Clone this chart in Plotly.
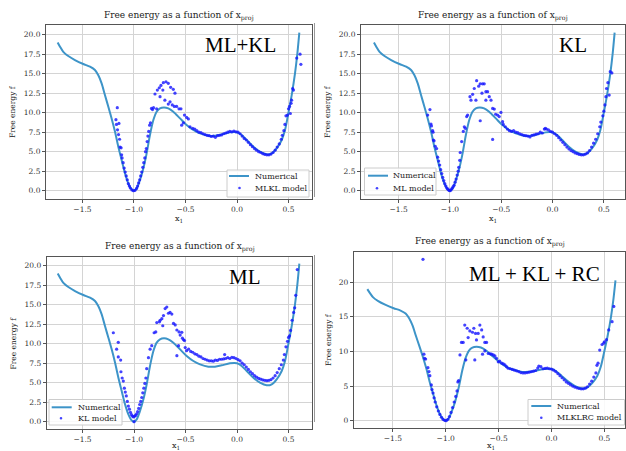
import plotly.graph_objects as go

W, H = 626, 451

# ---------------- data ----------------
num_x = [-1.741, -1.718, -1.686, -1.638, -1.573, -1.492, -1.427, -1.379, -1.346, -1.314,
         -1.282, -1.249, -1.217, -1.184, -1.152, -1.12, -1.087, -1.055, -1.023, -1.0,
         -0.974, -0.942, -0.909, -0.877, -0.845, -0.812, -0.78, -0.748, -0.709, -0.667,
         -0.618, -0.553, -0.489, -0.424, -0.359, -0.278, -0.214, -0.149, -0.068, 0.0,
         0.045, 0.094, 0.159, 0.223, 0.288, 0.337, 0.385, 0.434, 0.466, 0.498,
         0.531, 0.563, 0.586, 0.605]
num_y = [19.0, 18.46, 17.8, 17.26, 16.75, 16.24, 15.9, 15.47, 14.8, 13.76,
         12.26, 10.77, 9.27, 7.56, 5.64, 3.93, 2.22, 0.94, 0.17, 0.0,
         0.3, 1.37, 2.86, 4.79, 7.14, 9.06, 10.13, 10.56, 10.68, 10.56,
         10.13, 9.27, 8.42, 7.78, 7.35, 7.05, 7.05, 7.22, 7.48, 7.48,
         7.14, 6.5, 5.64, 5.0, 4.66, 4.79, 5.43, 6.5, 7.78, 9.91,
         12.26, 15.04, 17.6, 20.26]

# panel 1 : ML+KL  (MLKL model)
mlkl_x = [-1.175, -1.162, -1.17, -1.146, -1.16, -1.15, -1.14, -1.135, -1.125, -1.12, -1.115, -1.105,
          -1.095, -1.085, -1.075, -1.065, -1.055, -1.045, -1.035, -1.02, -1.005, -0.99, -0.975,
          -0.965, -0.955, -0.945, -0.935, -0.925, -0.915, -0.905, -0.895, -0.888, -0.88, -0.872,
          -0.865, -0.857, -0.848, -0.84, -0.83, -0.82, -0.81, -0.796, -0.78, -0.773, -0.754,
          -0.747, -0.738, -0.72, -0.715, -0.7, -0.689, -0.667, -0.667, -0.65, -0.644, -0.628,
          -0.618, -0.608, -0.602, -0.586, -0.563, -0.544, -0.537, -0.52, -0.51, -0.489, -0.472,
          -0.456, -0.43, -0.41, -0.39, -0.37, -0.35, -0.33, -0.31, -0.29, -0.27, -0.25, -0.23,
          -0.21, -0.19, -0.17, -0.15, -0.13, -0.11, -0.09, -0.07, -0.05, -0.03, -0.01, 0.01,
          0.03, 0.05, 0.07, 0.09, 0.11, 0.13, 0.15, 0.17, 0.19, 0.21, 0.23, 0.25, 0.27, 0.29,
          0.31, 0.33, 0.35, 0.37, 0.39, 0.41, 0.43, 0.44, 0.455, 0.465, 0.475, 0.49, 0.5, 0.51,
          0.518, 0.525, 0.53, 0.54, 0.548, 0.58, 0.612, 0.62]
mlkl_y = [9.1, 10.64, 8.5, 8.63, 7.8, 7.2, 6.6, 5.6, 5.5, 4.6, 4.2, 3.6,
          2.9, 2.4, 1.9, 1.4, 0.9, 0.6, 0.35, 0.1, 0.0, 0.05, 0.3,
          0.6, 1.0, 1.4, 1.9, 2.4, 3.0, 3.6, 4.2, 5.0, 5.4, 6.3,
          7.0, 7.6, 8.4, 8.7, 10.55, 10.4, 10.64, 12.4, 10.5, 12.9, 13.2,
          12.05, 13.5, 12.9, 13.85, 11.6, 13.97, 11.1, 13.76, 11.4, 13.25, 11.0,
          13.0, 10.8, 12.5, 10.8, 10.5, 10.5, 8.4, 8.7, 9.7, 9.4, 9.2,
          8.2, 8.0, 7.9, 7.7, 7.5, 7.45, 7.3, 7.2, 7.1, 7.05, 6.95, 7.0,
          6.85, 7.05, 7.1, 7.15, 7.3, 7.4, 7.5, 7.6, 7.55, 7.65, 7.55, 7.5,
          7.3, 7.0, 6.7, 6.5, 6.2, 5.9, 5.65, 5.4, 5.2, 5.0, 4.9, 4.75, 4.65, 4.6,
          4.6, 4.7, 4.9, 5.2, 5.6, 6.0, 6.6, 7.1, 7.7, 8.5, 9.6, 9.7, 10.5, 10.8,
          9.9, 11.2, 11.6, 13.1, 12.9, 17.0, 17.5, 16.2]

# panel 2 : KL  (ML model)
ml_x = [-1.217, -1.195, -1.185, -1.18, -1.169, -1.165, -1.162, -1.155, -1.143, -1.13, -1.12, -1.11,
        -1.1, -1.09, -1.08, -1.07, -1.06, -1.05, -1.04, -1.03, -1.02, -1.01, -1.0, -0.99, -0.98,
        -0.97, -0.96, -0.95, -0.94, -0.93, -0.92, -0.915, -0.905, -0.9, -0.886, -0.87, -0.86,
        -0.85, -0.837, -0.828, -0.805, -0.795, -0.779, -0.763, -0.747, -0.74, -0.72, -0.705,
        -0.705, -0.688, -0.682, -0.666, -0.65, -0.65, -0.633, -0.617, -0.6, -0.584, -0.584,
        -0.568, -0.555, -0.536, -0.52, -0.503, -0.487, -0.48, -0.46, -0.44, -0.42, -0.4, -0.38,
        -0.36, -0.34, -0.32, -0.3, -0.28, -0.26, -0.24, -0.22, -0.2, -0.18, -0.16, -0.14, -0.12,
        -0.1, -0.08, -0.07, -0.06, -0.04, -0.02, 0.0, 0.02, 0.04, 0.06, 0.08, 0.1, 0.12, 0.14,
        0.16, 0.18, 0.2, 0.22, 0.24, 0.26, 0.28, 0.3, 0.32, 0.34, 0.36, 0.38, 0.4, 0.42, 0.44,
        0.46, 0.47, 0.49, 0.5, 0.51, 0.52, 0.526, 0.539, 0.552, 0.562, 0.578]
ml_y = [9.7, 10.4, 8.55, 8.3, 7.7, 7.5, 6.5, 6.4, 5.7, 5.4, 4.3, 3.8,
        3.3, 2.7, 2.2, 1.7, 1.3, 0.9, 0.6, 0.35, 0.2, 0.05, 0.0, 0.1, 0.3,
        0.5, 0.7, 1.1, 1.5, 2.0, 2.5, 3.0, 3.9, 4.9, 6.3, 7.6, 8.2,
        8.0, 9.5, 9.7, 12.05, 11.6, 12.35, 13.1, 11.6, 14.1, 13.4, 13.7,
        8.97, 12.5, 13.7, 13.7, 12.7, 11.6, 12.7, 12.05, 11.6, 10.55, 6.58,
        10.47, 9.8, 9.7, 9.5, 10.04, 8.85, 8.5, 8.2, 7.9, 7.7, 7.6, 7.7,
        7.5, 7.45, 7.3, 7.2, 7.1, 7.05, 7.0, 6.9, 7.1, 7.15, 7.25, 7.3, 7.5,
        7.4, 7.9, 8.0, 7.9, 7.8, 7.6, 7.5, 7.3, 7.1, 6.8, 6.5, 6.2, 5.9, 5.6,
        5.35, 5.15, 5.0, 4.85, 4.75, 4.65, 4.6, 4.6, 4.7, 4.85, 5.15, 5.6, 6.1, 6.6, 7.3,
        8.2, 8.8, 9.6, 10.2, 11.0, 12.05, 13.1, 13.85, 12.26, 15.26, 15.1]

# panel 3 : ML  (KL model)
kl_x = [-1.201, -1.169, -1.153, -1.153, -1.13, -1.127, -1.115, -1.104, -1.094, -1.085, -1.075,
        -1.065, -1.055, -1.045, -1.035, -1.025, -1.015, -1.005, -1.0, -0.995, -0.985, -0.975,
        -0.965, -0.955, -0.945, -0.935, -0.925, -0.915, -0.905, -0.895, -0.885, -0.877, -0.86,
        -0.844, -0.828, -0.805, -0.789, -0.779, -0.753, -0.747, -0.73, -0.721, -0.714, -0.698,
        -0.682, -0.666, -0.65, -0.633, -0.617, -0.6, -0.584, -0.584, -0.568, -0.563, -0.552,
        -0.536, -0.53, -0.519, -0.51, -0.503, -0.49, -0.47, -0.45, -0.43, -0.41, -0.39, -0.37,
        -0.35, -0.33, -0.31, -0.29, -0.27, -0.25, -0.23, -0.21, -0.19, -0.17, -0.15, -0.13,
        -0.12, -0.11, -0.09, -0.07, -0.05, -0.03, -0.01, 0.01, 0.03, 0.05, 0.07, 0.09, 0.11,
        0.13, 0.15, 0.17, 0.19, 0.21, 0.23, 0.25, 0.27, 0.29, 0.31, 0.33, 0.35, 0.37, 0.39,
        0.41, 0.43, 0.45, 0.46, 0.475, 0.49, 0.5, 0.51, 0.52, 0.535, 0.55, 0.56, 0.57, 0.585]
kl_y = [11.4, 9.3, 10.17, 8.3, 7.9, 6.4, 5.6, 5.2, 4.3, 3.8, 3.3,
        2.6, 2.0, 1.6, 1.2, 0.9, 0.7, 0.6, 0.0, 0.7, 0.8, 1.0,
        1.3, 1.7, 2.2, 2.6, 3.1, 3.7, 4.3, 4.9, 5.6, 6.8, 8.2,
        9.3, 9.74, 11.4, 11.5, 12.7, 12.8, 13.0, 13.2, 12.3, 13.6, 14.5,
        14.7, 13.9, 14.0, 13.8, 12.6, 12.4, 11.75, 8.46, 9.74, 11.5, 11.1,
        11.45, 10.7, 10.5, 10.4, 9.5, 9.1, 9.3, 9.0, 8.9, 8.7, 8.6, 8.4,
        8.3, 8.1, 8.0, 7.9, 7.8, 7.8, 7.75, 7.9, 7.85, 8.0, 8.0, 8.05,
        8.6, 8.1, 8.2, 8.1, 8.25, 8.2, 8.1, 7.95, 7.8, 7.5, 7.3, 7.0, 6.7,
        6.4, 6.15, 5.9, 5.7, 5.55, 5.45, 5.35, 5.3, 5.25, 5.3, 5.4, 5.6, 5.9, 6.3,
        6.8, 7.3, 7.9, 8.6, 9.6, 10.3, 10.8, 11.0, 11.7, 13.0, 14.0, 14.6, 16.2, 19.5]

# panel 4 : ML + KL + RC  (MLKLRC model)
mlklrc_x = [-1.215, -1.206, -1.2, -1.19, -1.168, -1.158, -1.15, -1.136, -1.13, -1.12, -1.11, -1.1,
            -1.085, -1.07, -1.055, -1.04, -1.025, -1.01, -0.995, -0.98, -0.965, -0.95, -0.935,
            -0.92, -0.905, -0.893, -0.885, -0.878, -0.865, -0.851, -0.835, -0.82, -0.81, -0.797,
            -0.788, -0.772, -0.747, -0.734, -0.725, -0.718, -0.709, -0.693, -0.677, -0.66, -0.652,
            -0.646, -0.63, -0.63, -0.614, -0.598, -0.58, -0.566, -0.55, -0.535, -0.52, -0.503,
            -0.49, -0.47, -0.455, -0.44, -0.425, -0.41, -0.39, -0.37, -0.35, -0.33, -0.31, -0.29,
            -0.27, -0.25, -0.23, -0.21, -0.19, -0.17, -0.15, -0.13, -0.12, -0.1, -0.08, -0.06,
            -0.04, -0.02, 0.0, 0.02, 0.04, 0.06, 0.08, 0.1, 0.12, 0.14, 0.16, 0.18, 0.2, 0.22,
            0.24, 0.26, 0.28, 0.3, 0.32, 0.34, 0.36, 0.38, 0.4, 0.42, 0.43, 0.44, 0.456, 0.478,
            0.494, 0.5, 0.52, 0.541, 0.573, 0.589]
mlklrc_y = [23.3, 9.6, 9.0, 8.9, 7.66, 7.1, 6.5, 5.16, 4.5, 4.0, 3.3, 2.7,
            2.0, 1.4, 0.9, 0.5, 0.2, 0.05, 0.0, 0.2, 0.6, 1.2, 1.9,
            2.7, 3.5, 4.3, 5.6, 5.8, 9.5, 11.3, 11.3, 13.8, 8.77, 13.35,
            12.0, 12.96, 12.77, 13.35, 8.77, 12.6, 11.66, 12.6, 13.8, 13.1, 9.6,
            12.1, 11.3, 10.07, 11.3, 9.7, 9.65, 9.6, 9.5, 9.35, 9.0, 8.5,
            8.6, 8.3, 8.2, 8.05, 7.8, 7.57, 7.5, 7.4, 7.3, 7.2, 7.1, 6.95,
            6.9, 6.9, 6.95, 7.0, 7.1, 7.15, 7.25, 7.6, 7.9, 7.8, 7.5, 7.55,
            7.6, 7.5, 7.45, 7.3, 7.1, 6.8, 6.5, 6.2, 5.9, 5.6, 5.4, 5.2, 5.0, 4.85,
            4.75, 4.65, 4.6, 4.6, 4.7, 4.9, 5.3, 5.7, 6.3, 6.9, 8.0, 8.3, 10.2, 11.0,
            11.2, 11.4, 11.7, 13.1, 14.3, 16.5]

panel_labels = ["ML+KL", "KL", "ML", "ML + KL + RC"]
model_names = ["MLKL model", "ML model", "KL model", "MLKLRC model"]
line_name = "Numerical"
x_ticks = [-1.5, -1.0, -0.5, 0.0, 0.5]

# ---------------- layout helpers ----------------
def pxx(x):
    return x / W

def pxy(y):
    return 1 - y / H

SERIF = "DejaVu Serif"
LINE_COLOR = "#3d94c8"
DOT_COLOR = "rgba(20,20,255,0.8)"

# (left, right, top, bottom) in pixels
boxes = [(46, 312, 25, 199), (361, 625, 25, 199), (46.7, 312, 256.7, 429), (353.7, 625, 251.7, 427.7)]
xranges = [[-1.854, 0.728], [-1.867, 0.706], [-1.848, 0.728], [-1.87, 0.695]]
yranges = [[-1.06, 21.24], [-1.06, 21.24], [-0.94, 21.15], [-1.01, 24.4]]
ydticks = [2.5, 2.5, 2.5, 5]
yfmts = [".1f", ".1f", ".1f", "d"]

series = [(mlkl_x, mlkl_y), (ml_x, ml_y), (kl_x, kl_y), (mlklrc_x, mlklrc_y)]

fig = go.Figure()

for i in range(4):
    xa = "x" if i == 0 else f"x{i+1}"
    ya = "y" if i == 0 else f"y{i+1}"
    fig.add_trace(go.Scatter(x=num_x, y=num_y, mode="lines", name=line_name,
                             line=dict(color=LINE_COLOR, width=2, shape="spline", smoothing=0.8),
                             xaxis=xa, yaxis=ya))
    sx, sy = series[i]
    fig.add_trace(go.Scatter(x=sx, y=sy, mode="markers", name=model_names[i],
                             marker=dict(color=DOT_COLOR, size=3.2, line=dict(width=0)),
                             xaxis=xa, yaxis=ya))

axis_common = dict(showgrid=True, gridcolor="#d4d4d4", gridwidth=1, showline=True,
                   linecolor="#555", linewidth=1, mirror=True, ticks="outside", ticklen=3,
                   tickcolor="#555", zeroline=False,
                   tickfont=dict(family=SERIF, size=7.5, color="#333"))

layout = dict(width=W, height=H, margin=dict(l=0, r=0, t=0, b=0),
              paper_bgcolor="white", plot_bgcolor="white", showlegend=False)

for i in range(4):
    l, r, t, b = boxes[i]
    xk = "xaxis" if i == 0 else f"xaxis{i+1}"
    yk = "yaxis" if i == 0 else f"yaxis{i+1}"
    ya = "y" if i == 0 else f"y{i+1}"
    xa = "x" if i == 0 else f"x{i+1}"
    layout[xk] = dict(axis_common, domain=[pxx(l), pxx(r)], range=xranges[i], anchor=ya,
                      tickvals=x_ticks, tickformat=".1f")
    layout[yk] = dict(axis_common, domain=[pxy(b), pxy(t)], range=yranges[i], anchor=xa,
                      dtick=ydticks[i], tick0=0, tickformat=yfmts[i])

fig.update_layout(**layout)

# titles, axis labels, big labels
title_pos = [(179, 16), (493, 16), (179.5, 247), (489.5, 242)]
ylabel_pos = [(13, 112), (328, 112), (12.5, 343), (328, 340)]
xlabel_pos = [(179, 218.5), (493, 218.5), (176, 446), (491, 446)]
big_pos = [(240, 45), (572.5, 45), (245, 277), (534, 274)]

for i in range(4):
    tx, ty = title_pos[i]
    fig.add_annotation(text="Free energy as a function of x<sub>proj</sub>", x=pxx(tx), y=pxy(ty),
                       xref="paper", yref="paper", showarrow=False,
                       font=dict(family=SERIF, size=9, color="#222"), xanchor="center", yanchor="middle")
    lx, ly = ylabel_pos[i]
    fig.add_annotation(text="Free energy f", x=pxx(lx), y=pxy(ly), xref="paper", yref="paper",
                       showarrow=False, textangle=-90,
                       font=dict(family=SERIF, size=7.5, color="#222"), xanchor="center", yanchor="middle")
    ax_, ay_ = xlabel_pos[i]
    fig.add_annotation(text="x<sub>1</sub>", x=pxx(ax_), y=pxy(ay_), xref="paper", yref="paper",
                       showarrow=False, font=dict(family=SERIF, size=8, color="#222"),
                       xanchor="center", yanchor="middle")
    bx, by = big_pos[i]
    fig.add_annotation(text=panel_labels[i], x=pxx(bx), y=pxy(by), xref="paper", yref="paper",
                       showarrow=False, font=dict(family="Liberation Serif", size=21, color="black"),
                       xanchor="center", yanchor="middle")

# legends (matplotlib-style compact boxes)
# box (l, t, r, b), line sample (x0, x1, y), dot (x, y), text start x
legends = [
    ((227, 170, 309, 197), (229, 249, 176), (239.5, 188), 253),
    ((364.5, 168, 436, 195), (368, 388, 175.7), (377, 188.3), 391),
    ((49, 399.5, 122, 425), (51.7, 71.7, 407.3), (61, 418.3), 75.5),
    ((528, 399.5, 624.5, 425), (531.3, 551.3, 406), (541.3, 417.7), 554.5),
]
for i, (bx_, ln, dot, tx0) in enumerate(legends):
    l, t, r, b = bx_
    fig.add_shape(type="rect", xref="paper", yref="paper", x0=pxx(l), x1=pxx(r), y0=pxy(b), y1=pxy(t),
                  line=dict(color="#cccccc", width=1), fillcolor="rgba(255,255,255,0.85)", layer="above")
    fig.add_shape(type="line", xref="paper", yref="paper", x0=pxx(ln[0]), x1=pxx(ln[1]),
                  y0=pxy(ln[2]), y1=pxy(ln[2]), line=dict(color=LINE_COLOR, width=2), layer="above")
    fig.add_shape(type="circle", xref="paper", yref="paper", x0=pxx(dot[0] - 1.3), x1=pxx(dot[0] + 1.3),
                  y0=pxy(dot[1] + 1.3), y1=pxy(dot[1] - 1.3), line=dict(width=0),
                  fillcolor=DOT_COLOR, layer="above")
    fig.add_annotation(text=line_name, x=pxx(tx0), y=pxy(ln[2]), xref="paper", yref="paper",
                       showarrow=False, xanchor="left", yanchor="middle",
                       font=dict(family=SERIF, size=8, color="#222"))
    fig.add_annotation(text=model_names[i], x=pxx(tx0), y=pxy(dot[1]), xref="paper", yref="paper",
                       showarrow=False, xanchor="left", yanchor="middle",
                       font=dict(family=SERIF, size=8, color="#222"))

# faint frame lines of the original sub-images
fig.add_shape(type="line", xref="paper", yref="paper", x0=pxx(314.5), x1=pxx(314.5),
              y0=pxy(197), y1=pxy(23), line=dict(color="#999", width=1))
fig.add_shape(type="line", xref="paper", yref="paper", x0=pxx(314.5), x1=pxx(314.5),
              y0=pxy(422), y1=pxy(255), line=dict(color="#999", width=1))

fig.write_html("out.html")
